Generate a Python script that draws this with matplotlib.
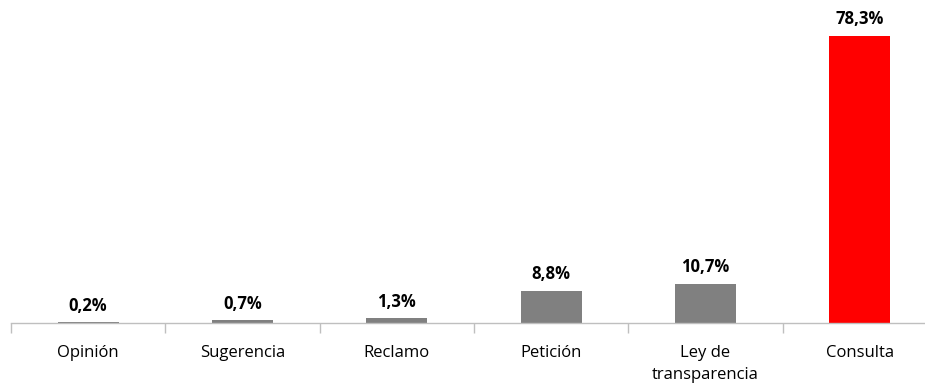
import matplotlib
matplotlib.use("Agg")
import matplotlib.pyplot as plt
import numpy as np

categories = ["Opinión", "Sugerencia", "Reclamo", "Petición", "Ley de\ntransparencia", "Consulta"]
values = [0.2, 0.7, 1.3, 8.8, 10.7, 78.3]
labels = ["0,2%", "0,7%", "1,3%", "8,8%", "10,7%", "78,3%"]
colors = ["#808080", "#808080", "#808080", "#808080", "#808080", "#FF0000"]

plt.rcParams['font.family'] = ['Open Sans', 'DejaVu Sans']

W, H = 925, 385
fig = plt.figure(figsize=(W / 100, H / 100), dpi=100)
left_px, right_px = 11, 937
bottom_px = 323
ymax = 85
px_per_unit = 3.665
top_px = bottom_px - ymax * px_per_unit
ax = fig.add_axes([left_px / W, (H - bottom_px) / H, (right_px - left_px) / W, (bottom_px - top_px) / H])

x = np.arange(len(categories))
ax.bar(x, values, width=0.395, color=colors, zorder=2)
ax.set_xlim(-0.5, len(categories) - 0.5)
ax.set_ylim(0, ymax)

for xi, v, lab in zip(x, values, labels):
    ax.annotate(lab, (xi, v), xytext=(0, 5.5), textcoords="offset points",
                ha="center", va="bottom", fontsize=12, fontweight="bold",
                color="#000000", clip_on=False)

for s in ["top", "right", "left"]:
    ax.spines[s].set_visible(False)
ax.spines["bottom"].set_color("#BFBFBF")
ax.spines["bottom"].set_linewidth(1.0)
ax.set_yticks([])
ax.set_xticks(x)
ax.set_xticklabels(categories, fontsize=12, color="#000000", linespacing=1.5)
ax.tick_params(axis="x", which="major", length=0, pad=16)
ax.set_xticks(np.arange(-0.5, len(categories) - 0.4, 1.0), minor=True)
ax.tick_params(axis="x", which="minor", length=7, color="#BFBFBF", width=1.0)

fig.savefig("out.png", dpi=100)
